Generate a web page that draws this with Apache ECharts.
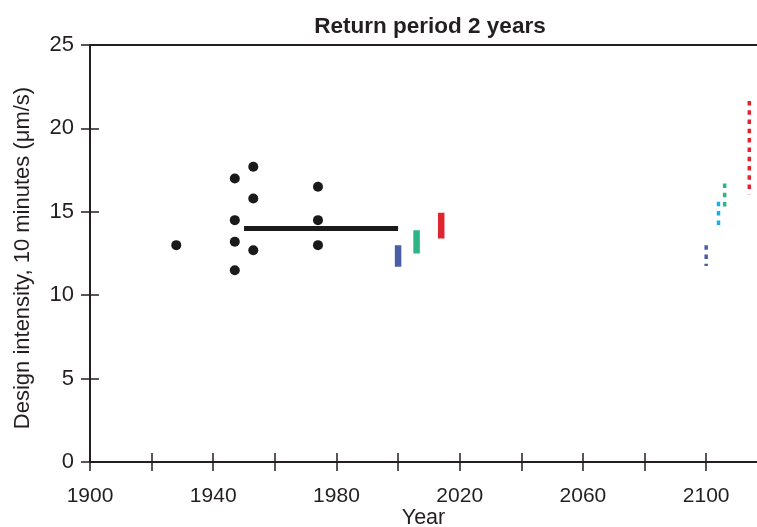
<!DOCTYPE html>
<html>
<head>
<meta charset="utf-8">
<script src="https://cdn.jsdelivr.net/npm/echarts@6/dist/echarts.min.js"></script>
<style>
  html, body { margin: 0; padding: 0; background: #fff; }
  #chart { width: 757px; height: 527px; }
</style>
</head>
<body>
<div id="chart"></div>
<script>
// Observed annual design intensities (year, µm/s)
const obsYears  = [1928, 1947, 1947, 1947, 1947, 1953, 1953, 1953, 1974, 1974, 1974];
const obsValues = [13.0, 17.0, 14.5, 13.2, 11.5, 17.7, 15.8, 12.7, 16.5, 14.5, 13.0];

// Mean of the observation period
const meanStart = 1950;
const meanEnd   = 2000;
const meanValue = 14.0;

// Present-day ranges (solid bars): year, low, high
const nowYears = [2000, 2006, 2014];
const nowLow   = [11.7, 12.5, 13.4];
const nowHigh  = [13.0, 13.9, 14.95];

// End-of-century ranges (dotted bars): year, low, high
const futYears = [2100, 2104, 2106, 2114];
const futLow   = [11.75, 14.05, 15.05, 16.05];
const futHigh  = [13.0, 15.6, 16.7, 21.65];

const nowColors = ['#4a5ea8', '#2bb683', '#df2530'];
const futColors = ['#4a5ea8', '#1ab0e6', '#2bb683', '#df2530'];

// Axis ticks and labels
const xTicks    = [1900, 1920, 1940, 1960, 1980, 2000, 2020, 2040, 2060, 2080, 2100];
const xLabelled = [1900, 1940, 1980, 2020, 2060, 2100];

const FONT = 'Liberation Sans, Arial, sans-serif';
const INK = '#231f20';

const X_MIN = 1900, X_MAX = 2116.5;

const series = [];

series.push({
  type: 'scatter',
  xAxisIndex: 0, yAxisIndex: 0,
  data: obsYears.map((y, i) => [y, obsValues[i]]),
  symbol: 'circle',
  symbolSize: 10,
  itemStyle: { color: '#1a1a1a', opacity: 1 },
  z: 5
});

series.push({
  type: 'line',
  xAxisIndex: 0, yAxisIndex: 0,
  data: [[meanStart, meanValue], [meanEnd, meanValue]],
  showSymbol: false,
  lineStyle: { color: '#1a1a1a', width: 5, cap: 'butt' },
  z: 4
});

nowYears.forEach((yr, i) => {
  series.push({
    type: 'line',
    xAxisIndex: 0, yAxisIndex: 0,
    data: [[yr, nowLow[i]], [yr, nowHigh[i]]],
    showSymbol: false,
    lineStyle: { color: nowColors[i], width: 6.5, cap: 'butt' },
    z: 3
  });
});

futYears.forEach((yr, i) => {
  series.push({
    type: 'line',
    xAxisIndex: 0, yAxisIndex: 0,
    data: [[yr, futHigh[i]], [yr, futLow[i]]],
    showSymbol: false,
    lineStyle: { color: futColors[i], width: 3.5, type: [4.5, 4.8], cap: 'butt' },
    z: 3
  });
});

const chart = echarts.init(document.getElementById('chart'), null, { renderer: 'canvas' });

const tickLen = 9;
chart.setOption({
  animation: false,
  backgroundColor: '#ffffff',
  title: {
    text: 'Return period 2 years',
    left: 425,
    top: 10,
    textAlign: 'center',
    textStyle: { fontFamily: FONT, fontSize: 22.5, fontWeight: 'bold', color: INK }
  },
  grid: { left: 90, right: 0, top: 45, bottom: 65, containLabel: false, outerBoundsMode: 'none' },
  xAxis: [
    {
      type: 'value', position: 'bottom', min: X_MIN, max: X_MAX,
      axisLine: { show: true, onZero: false, lineStyle: { color: INK, width: 2 } },
      axisTick: { show: true, inside: false, length: tickLen, customValues: xTicks,
                  lineStyle: { color: INK, width: 1.5 } },
      axisLabel: {
        show: true, margin: 24, fontFamily: FONT, fontSize: 21, color: INK,
        customValues: xLabelled,
        formatter: v => String(v)
      },
      splitLine: { show: false },
      name: 'Year', nameLocation: 'middle', nameGap: 45, nameMoveOverlap: false,
      nameTextStyle: { fontFamily: FONT, fontSize: 21.5, color: INK }
    },
    {
      type: 'value', position: 'bottom', min: X_MIN, max: X_MAX,
      axisLine: { show: false, onZero: false },
      axisTick: { show: true, inside: true, length: tickLen, customValues: xTicks,
                  lineStyle: { color: INK, width: 1.5 } },
      axisLabel: { show: false },
      splitLine: { show: false }
    },
    {
      type: 'value', position: 'top', min: X_MIN, max: X_MAX,
      axisLine: { show: true, onZero: false, lineStyle: { color: INK, width: 2 } },
      axisTick: { show: false },
      axisLabel: { show: false },
      splitLine: { show: false }
    }
  ],
  yAxis: [
    {
      type: 'value', position: 'left', min: 0, max: 25, interval: 5,
      axisLine: { show: true, onZero: false, lineStyle: { color: INK, width: 2 } },
      axisTick: { show: true, inside: false, length: tickLen, lineStyle: { color: INK, width: 1.5 } },
      axisLabel: { margin: 16, fontFamily: FONT, fontSize: 22, color: INK },
      splitLine: { show: false }
    },
    {
      type: 'value', position: 'left', min: 0, max: 25, interval: 5,
      axisLine: { show: false, onZero: false },
      axisTick: { show: true, inside: true, length: tickLen, lineStyle: { color: INK, width: 1.5 } },
      axisLabel: { show: false },
      splitLine: { show: false }
    }
  ],
  graphic: [{
    type: 'text',
    x: 23, y: 258,
    rotation: Math.PI / 2,
    style: {
      text: 'Design intensity, 10 minutes (μm/s)',
      fontFamily: FONT, fontSize: 22, fill: INK,
      textAlign: 'center', textVerticalAlign: 'middle'
    }
  }],
  series: series
});
</script>
</body>
</html>
